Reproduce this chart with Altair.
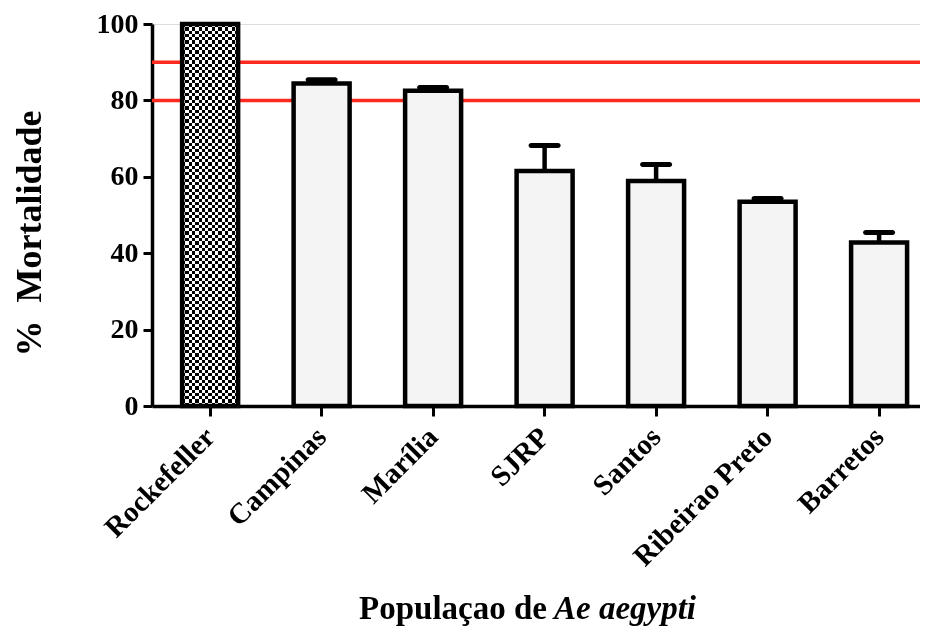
import altair as alt
import pandas as pd

populations = ["Rockefeller", "Campinas", "Marília", "SJRP", "Santos", "Ribeirao Preto", "Barretos"]
mortality = [100, 84.4, 82.5, 61.5, 58.9, 53.5, 42.8]
error = [0, 1.0, 0.9, 6.7, 4.3, 0.8, 2.6]
reference_lines = [80, 90]
y_ticks = [0, 20, 40, 60, 80, 100]
x_title_plain = "Populaçao de"
x_title_italic = "Ae aegypti"
y_title = "% \u00a0Mortalidade"
checker_group = "Rockefeller"

df = pd.DataFrame({"pop": populations, "mort": mortality, "err": error})
df["top"] = df["mort"] + df["err"]
df_err = df[df["err"] > 0]
ref = pd.DataFrame({"v": reference_lines})

FONT = "Liberation Serif"
W, H = 768, 382


def stripes(n_cells, first, second, horizontal):
    stops = []
    for i in range(n_cells):
        c = first if i % 2 == 0 else second
        stops.append({"offset": i / n_cells, "color": c})
        stops.append({"offset": (i + 1) / n_cells, "color": c})
    g = {"gradient": "linear", "stops": stops}
    if horizontal:
        g.update({"x1": 0, "x2": 0, "y1": 0, "y2": 1})
    else:
        g.update({"x1": 0, "x2": 1, "y1": 0, "y2": 0})
    return alt.LinearGradient(**g)


xscale = alt.Scale(domain=populations, paddingInner=0.4978, paddingOuter=0.193, align=0.70)
yscale = alt.Scale(domain=[0, 100], nice=False, zero=True)

xaxis = alt.Axis(title=None, labelAngle=-45, labelAlign="right", labelBaseline="middle",
                 labelFontSize=29, labelFont=FONT, labelFontWeight="bold", labelColor="black",
                 labelPadding=16, labelLimit=500, tickSize=10, tickWidth=3, tickColor="black",
                 domainColor="black", domainWidth=3.5)
yaxis = alt.Axis(title=y_title, values=y_ticks, labelFontSize=28, labelFont=FONT,
                 labelFontWeight="bold", labelColor="black", labelPadding=5,
                 tickSize=9, tickWidth=3, tickColor="black", domainColor="black",
                 domainWidth=3.5, grid=False, titleFont=FONT, titleFontSize=36,
                 titleFontWeight="bold", titleColor="black", titleX=-123, titleY=209,
                 titleAlign="center", titleBaseline="middle", titleAngle=-90)

X = alt.X("pop:N", scale=xscale, sort=populations, axis=xaxis)
Y = alt.Y("mort:Q", scale=yscale, axis=yaxis)

lines = alt.Chart(ref).mark_rule(color="#ff2a1f", strokeWidth=3.5).encode(
    y=alt.Y("v:Q", scale=yscale, axis=yaxis)
)

base_chk = alt.Chart(df).transform_filter(alt.datum.pop == checker_group)
chk_a = base_chk.mark_bar(fill=stripes(17, "#000000", "#ffffff", False), strokeWidth=0).encode(x=X, y=Y)
chk_b = base_chk.mark_bar(fill=stripes(116, "#000000", "#ffffff", True), strokeWidth=0,
                          blend="difference").encode(x=X, y=Y)

bars = alt.Chart(df).mark_bar(stroke="black", strokeWidth=4.5, strokeJoin="miter").encode(
    x=X,
    y=Y,
    fill=alt.condition(alt.datum.pop == checker_group, alt.value("transparent"), alt.value("#f4f4f4")),
)

err_stem = alt.Chart(df_err).mark_rule(color="black", strokeWidth=4.5).encode(
    x=X, y=Y, y2="top:Q",
)
err_cap = alt.Chart(df_err).mark_tick(color="black", thickness=5, size=32, cornerRadius=2.5, opacity=1).encode(
    x=X, y=alt.Y("top:Q", scale=yscale, axis=yaxis),
)

tdf = pd.DataFrame({"a": [x_title_plain], "b": [x_title_italic]})
t1 = alt.Chart(tdf).mark_text(font=FONT, fontSize=33, fontWeight="bold", align="right",
                              baseline="alphabetic", color="black").encode(
    x=alt.value(395), y=alt.value(595), text="a:N")
t2 = alt.Chart(tdf).mark_text(font=FONT, fontSize=33, fontWeight="bold", fontStyle="italic",
                              align="left", baseline="alphabetic", color="black").encode(
    x=alt.value(402), y=alt.value(595), text="b:N")

chart = alt.layer(lines, chk_a, chk_b, bars, err_stem, err_cap, t1, t2).properties(
    width=W, height=H,
    autosize=alt.AutoSizeParams(type="none"),
    padding={"left": 144, "top": 16, "right": 0, "bottom": 224},
).configure_view(stroke=None).configure(background="white")

chart.save("out.html", embed_options={"renderer": "svg", "actions": False})
